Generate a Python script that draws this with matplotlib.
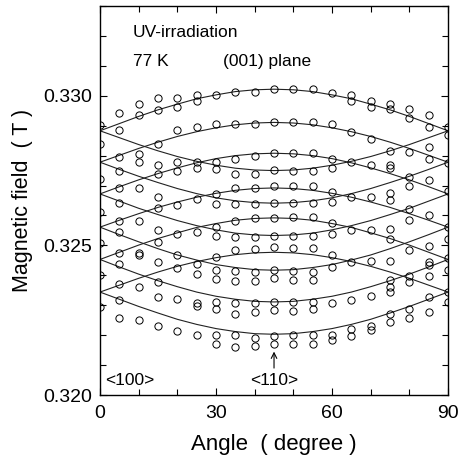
import numpy as np
import matplotlib.pyplot as plt
from matplotlib.ticker import MultipleLocator

plt.rcParams['font.family'] = ['Liberation Sans', 'DejaVu Sans']

# rotation angle (degree), 5 degree steps
angle = [0, 5, 10, 15, 20, 25, 30, 35, 40, 45, 50, 55, 60, 65, 70, 75, 80, 85, 90]

# observed resonance fields (mT) for each angle
pts_00 = [329.03, 328.40, 327.23, 326.13, 325.07, 324.00, 322.93]
pts_05 = [329.44, 328.86, 327.97, 327.50, 326.92, 326.41, 325.83, 325.44, 324.74, 324.37, 323.70, 323.19, 322.59]
pts_10 = [329.74, 329.36, 328.05, 327.80, 326.92, 325.80, 324.76, 324.67, 323.62, 322.50]
pts_15 = [329.94, 329.53, 328.39, 327.67, 327.39, 326.61, 326.26, 325.52, 325.11, 324.44, 323.78, 323.26, 322.30]
pts_20 = [329.94, 329.63, 328.86, 327.78, 327.50, 326.36, 325.37, 324.67, 324.26, 323.20, 322.14]
pts_25 = [330.03, 329.83, 328.97, 327.78, 327.59, 326.56, 325.44, 324.37, 324.06, 323.06, 322.97, 322.00]
pts_30 = [330.03, 329.06, 327.78, 327.56, 326.72, 326.39, 325.63, 325.33, 324.61, 324.19, 323.89, 323.11, 322.89, 322.00, 321.72]
pts_35 = [330.13, 329.06, 327.89, 327.37, 326.92, 326.39, 325.83, 325.28, 324.83, 324.14, 323.81, 323.08, 322.70, 322.00, 321.61]
pts_40 = [330.13, 329.06, 328.00, 327.39, 326.92, 326.39, 325.92, 325.28, 324.89, 324.11, 323.81, 323.08, 322.78, 321.92, 321.63]
pts_45 = [330.22, 329.14, 328.08, 327.52, 326.97, 326.41, 325.92, 325.33, 324.93, 324.18, 323.92, 323.10, 322.83, 321.97, 321.70]
pts_50 = [330.22, 329.14, 328.08, 327.50, 326.97, 326.41, 325.94, 325.33, 324.90, 324.14, 323.86, 323.11, 322.81, 322.00, 321.70]
pts_55 = [330.22, 329.14, 328.08, 327.50, 326.97, 326.41, 325.94, 325.33, 324.90, 324.11, 323.86, 323.11, 322.89, 322.00, 321.72]
pts_60 = [330.08, 329.06, 327.89, 327.59, 326.78, 326.44, 325.74, 325.37, 324.67, 324.28, 323.08, 322.00, 321.83]
pts_65 = [330.03, 329.83, 328.78, 327.78, 326.61, 325.52, 324.44, 323.19, 322.22, 321.97]
pts_70 = [329.83, 329.61, 328.56, 327.67, 326.61, 325.52, 324.48, 323.30, 322.30, 322.17]
pts_75 = [329.74, 329.56, 328.17, 327.67, 327.59, 326.74, 326.52, 325.56, 325.22, 324.48, 323.86, 323.61, 323.44, 322.70, 322.44]
pts_80 = [329.56, 329.26, 328.11, 327.30, 326.97, 326.22, 325.86, 324.86, 323.97, 323.78, 322.89, 322.59]
pts_85 = [329.37, 328.94, 328.28, 327.89, 327.19, 326.03, 324.97, 324.44, 324.33, 323.97, 323.28, 322.78]
pts_90 = [328.97, 328.70, 327.77, 326.83, 325.63, 325.23, 324.57, 324.17, 323.43, 323.10]

# calculated curves (mT), maximum at <110>
up1 = [323.44, 323.67, 323.90, 324.11, 324.30, 324.46, 324.59, 324.69, 324.75, 324.77, 324.75, 324.69, 324.59, 324.46, 324.30, 324.11, 323.90, 323.67, 323.44]
up2 = [324.53, 324.77, 325.01, 325.23, 325.42, 325.60, 325.73, 325.84, 325.90, 325.92, 325.90, 325.84, 325.73, 325.60, 325.42, 325.23, 325.01, 324.77, 324.53]
up3 = [325.61, 325.84, 326.06, 326.27, 326.45, 326.61, 326.74, 326.84, 326.90, 326.92, 326.90, 326.84, 326.74, 326.61, 326.45, 326.27, 326.06, 325.84, 325.61]
up4 = [326.72, 326.96, 327.19, 327.40, 327.59, 327.76, 327.90, 328.00, 328.06, 328.08, 328.06, 328.00, 327.90, 327.76, 327.59, 327.40, 327.19, 326.96, 326.72]
up5 = [327.78, 328.01, 328.24, 328.45, 328.64, 328.80, 328.93, 329.03, 329.09, 329.11, 329.09, 329.03, 328.93, 328.80, 328.64, 328.45, 328.24, 328.01, 327.78]
up6 = [328.83, 329.07, 329.31, 329.53, 329.72, 329.90, 330.03, 330.14, 330.20, 330.22, 330.20, 330.14, 330.03, 329.90, 329.72, 329.53, 329.31, 329.07, 328.83]
# calculated curves (mT), minimum at <110>
dn1 = [323.44, 323.20, 322.96, 322.74, 322.53, 322.36, 322.22, 322.12, 322.05, 322.03, 322.05, 322.12, 322.22, 322.36, 322.53, 322.74, 322.96, 323.20, 323.44]
dn2 = [324.53, 324.28, 324.04, 323.82, 323.62, 323.44, 323.30, 323.20, 323.13, 323.11, 323.13, 323.20, 323.30, 323.44, 323.62, 323.82, 324.04, 324.28, 324.53]
dn3 = [325.61, 325.36, 325.12, 324.89, 324.68, 324.51, 324.36, 324.26, 324.19, 324.17, 324.19, 324.26, 324.36, 324.51, 324.68, 324.89, 325.12, 325.36, 325.61]
dn4 = [326.72, 326.48, 326.24, 326.03, 325.83, 325.66, 325.52, 325.41, 325.35, 325.33, 325.35, 325.41, 325.52, 325.66, 325.83, 326.03, 326.24, 326.48, 326.72]
dn5 = [327.78, 327.54, 327.31, 327.10, 326.90, 326.73, 326.59, 326.49, 326.43, 326.41, 326.43, 326.49, 326.59, 326.73, 326.90, 327.10, 327.31, 327.54, 327.78]
dn6 = [328.83, 328.60, 328.37, 328.16, 327.97, 327.81, 327.68, 327.58, 327.52, 327.50, 327.52, 327.58, 327.68, 327.81, 327.97, 328.16, 328.37, 328.60, 328.83]

columns = [pts_00, pts_05, pts_10, pts_15, pts_20, pts_25, pts_30, pts_35, pts_40, pts_45,
           pts_50, pts_55, pts_60, pts_65, pts_70, pts_75, pts_80, pts_85, pts_90]
curves = [up1, up2, up3, up4, up5, up6, dn1, dn2, dn3, dn4, dn5, dn6]

fig = plt.figure(figsize=(4.58, 4.62), dpi=100)
ax = fig.add_axes([0.2183, 0.145, 0.76, 0.842])

for c in curves:
    ax.plot(angle, np.array(c) / 1000, color='#222222', lw=0.8)

for a, col in zip(angle, columns):
    ax.plot([a] * len(col), np.array(col) / 1000, 'o', ms=5.2, mfc='none', mec='black', mew=0.7)

ax.set_xlim(0, 90)
ax.set_ylim(0.320, 0.333)
ax.xaxis.set_major_locator(MultipleLocator(30))
ax.xaxis.set_minor_locator(MultipleLocator(10))
ax.yaxis.set_major_locator(MultipleLocator(0.005))
ax.yaxis.set_minor_locator(MultipleLocator(0.001))
ax.set_yticks([0.320, 0.325, 0.330])
ax.set_yticklabels(['0.320', '0.325', '0.330'])
ax.tick_params(which='both', direction='in', top=True, right=True, labelsize=14, width=0.8)
ax.tick_params(which='major', length=5)
ax.tick_params(which='minor', length=4)
ax.tick_params(axis='x', pad=7)
ax.tick_params(axis='y', pad=6)
for s in ax.spines.values():
    s.set_linewidth(1.0)

ax.set_xlabel('Angle  ( degree )', fontsize=16, labelpad=9)
ax.set_ylabel('Magnetic field  ( T )', fontsize=15.5, labelpad=7)

ax.text(8.5, 0.33213, 'UV-irradiation', fontsize=12.5, va='center')
ax.text(8.5, 0.33115, '77 K', fontsize=12.5, va='center')
ax.text(31.8, 0.33115, '(001) plane', fontsize=12.5, va='center')
ax.text(1.3, 0.32050, '<100>', fontsize=12.5, va='center')
ax.text(45, 0.32050, '<110>', fontsize=12.5, va='center', ha='center')
ax.annotate('', xy=(45, 0.32145), xytext=(45, 0.32090),
            arrowprops=dict(arrowstyle='->', lw=0.8, color='black', shrinkA=0, shrinkB=0))

fig.savefig('out.png', dpi=100)
